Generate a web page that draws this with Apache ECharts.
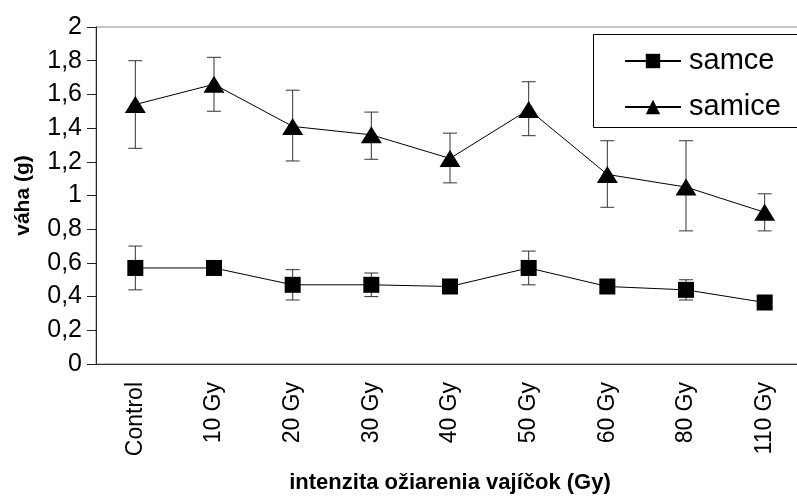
<!DOCTYPE html>
<html><head><meta charset="utf-8">
<script src="https://cdn.jsdelivr.net/npm/echarts@6/dist/echarts.min.js"></script>
<style>html,body{margin:0;padding:0;background:#fff}#c{width:797px;height:496px}</style>
</head><body><div id="c"></div>
<script>
const categories = ['Control','10 Gy','20 Gy','30 Gy','40 Gy','50 Gy','60 Gy','80 Gy','110 Gy'];
const samce = [0.57,0.57,0.47,0.47,0.46,0.57,0.46,0.44,0.365];
const samceLow = [0.44,0.55,0.38,0.40,0.44,0.47,0.44,0.38,0.35];
const samceHigh = [0.70,0.59,0.56,0.54,0.48,0.67,0.48,0.50,0.38];
const samice = [1.54,1.66,1.41,1.36,1.22,1.51,1.125,1.05,0.90];
const samiceLow = [1.28,1.50,1.205,1.215,1.075,1.355,0.93,0.79,0.79];
const samiceHigh = [1.80,1.82,1.625,1.495,1.37,1.675,1.325,1.325,1.01];
const yTickLabels = ['0','0,2','0,4','0,6','0,8','1','1,2','1,4','1,6','1,8','2'];

const FONT = "'Liberation Sans', Arial, sans-serif";

function errRender(params, api){
  const i = api.value(0);
  const top = api.coord([i, api.value(2)]);
  const bot = api.coord([i, api.value(1)]);
  const hw = 7;
  const style = {stroke:'#333', lineWidth:1};
  return {type:'group', children:[
    {type:'line', shape:{x1:top[0],y1:top[1],x2:bot[0],y2:bot[1]}, style:style},
    {type:'line', shape:{x1:top[0]-hw,y1:top[1],x2:top[0]+hw,y2:top[1]}, style:style},
    {type:'line', shape:{x1:bot[0]-hw,y1:bot[1],x2:bot[0]+hw,y2:bot[1]}, style:style}
  ]};
}
function errData(low, high){ return categories.map(function(c,i){ return [i, low[i], high[i]]; }); }

const chart = echarts.init(document.getElementById('c'), null, {renderer:'canvas'});
chart.setOption({
  backgroundColor:'#fff',
  animation:false,
  textStyle:{fontFamily:FONT},
  grid:{left:96, top:27, width:708, height:337, outerBoundsMode:'none', containLabel:false,
    show:true, borderColor:'#888', borderWidth:1, backgroundColor:'transparent'},
  graphic:[{type:'rect', z:10, silent:true,
    shape:{x:593.5, y:34.5, width:240, height:93},
    style:{fill:'none', stroke:'#000', lineWidth:1}}],
  legend:{
    orient:'vertical', left:594, top:34,
    data:['samce','samice'],
    itemWidth:56, itemHeight:18, itemGap:16,
    padding:[12,10,12,30],
    borderWidth:0,
    textStyle:{fontSize:29, color:'#000', fontFamily:FONT, lineHeight:30, padding:[0,0,0,3]}
  },
  xAxis:{
    type:'category', data:categories, boundaryGap:true,
    axisLine:{lineStyle:{color:'#333', width:1}},
    axisTick:{length:7, lineStyle:{color:'#333'}},
    axisLabel:{rotate:90, fontSize:23, color:'#000', margin:18, fontFamily:FONT},
    name:'intenzita ožiarenia vajíčok (Gy)', nameLocation:'middle', nameGap:108,
    nameTextStyle:{fontSize:22, fontWeight:'bold', color:'#000', fontFamily:FONT}
  },
  yAxis:{
    type:'value', min:0, max:2, interval:0.2,
    axisLine:{show:true, lineStyle:{color:'#222', width:1}},
    axisTick:{show:true, length:9, lineStyle:{color:'#222'}},
    splitLine:{show:false},
    axisLabel:{fontSize:25, color:'#000', margin:14, fontFamily:FONT,
      formatter:function(v){ return yTickLabels[Math.round(v/0.2)]; }},
    name:'váha (g)', nameLocation:'middle', nameGap:62,
    nameTextStyle:{fontSize:21, fontWeight:'bold', color:'#000', fontFamily:FONT}
  },
  series:[
    {name:'samceErr', type:'custom', renderItem:errRender, data:errData(samceLow, samceHigh), encode:{x:0,y:[1,2]}, z:1, silent:true},
    {name:'samiceErr', type:'custom', renderItem:errRender, data:errData(samiceLow, samiceHigh), encode:{x:0,y:[1,2]}, z:1, silent:true},
    {name:'samce', type:'line', data:samce, symbol:'rect', symbolSize:16, z:3,
      itemStyle:{color:'#000'}, lineStyle:{color:'#000', width:1}},
    {name:'samice', type:'line', data:samice, symbol:'triangle', symbolSize:[21,17], z:3,
      itemStyle:{color:'#000'}, lineStyle:{color:'#000', width:1}}
  ]
});
</script></body></html>
